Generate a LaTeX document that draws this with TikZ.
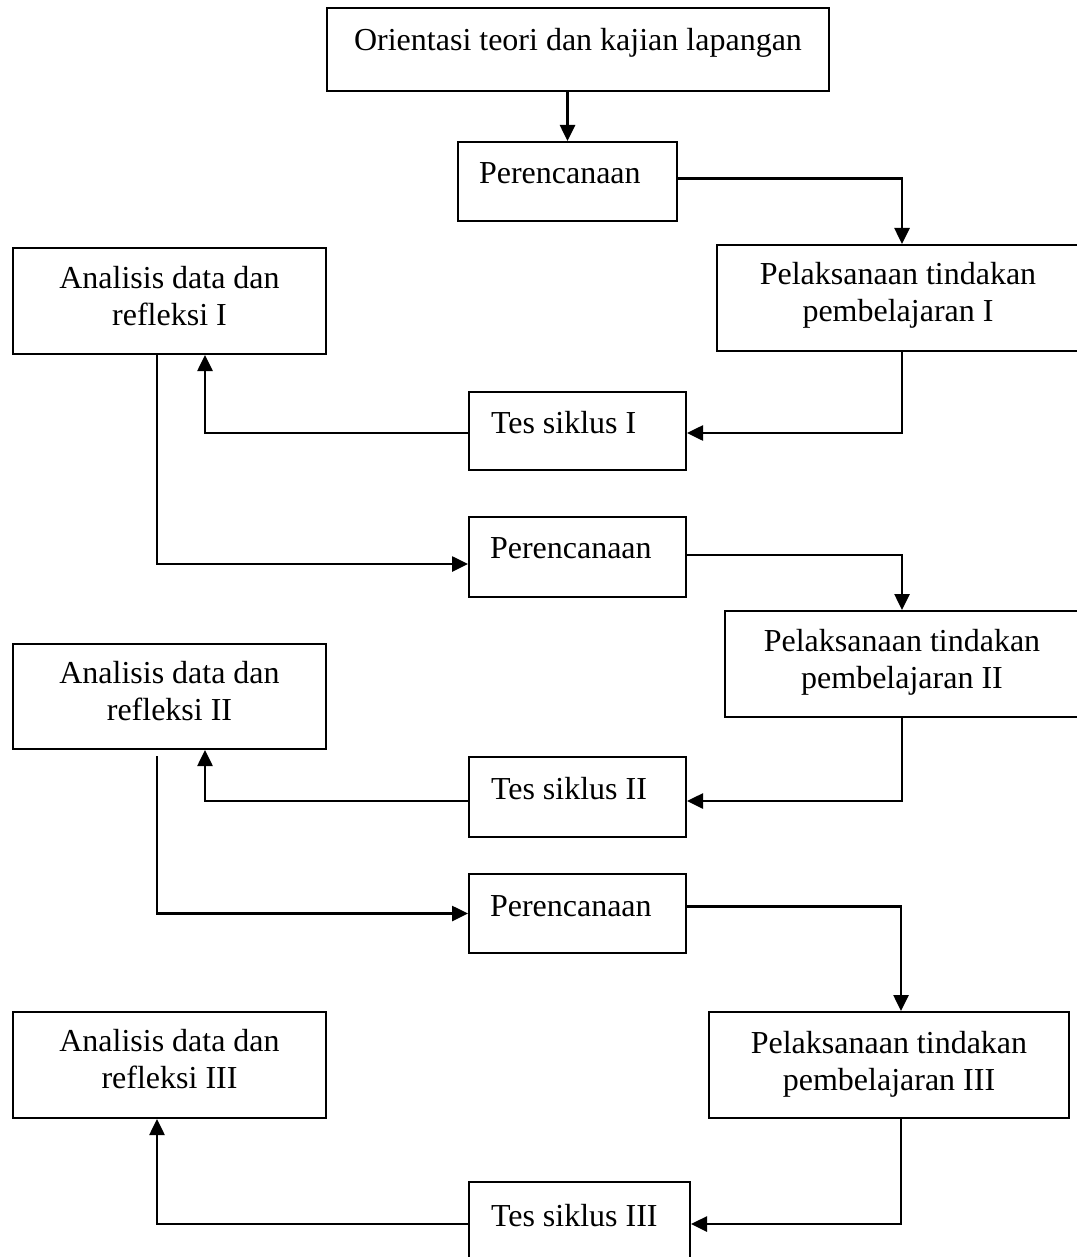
\documentclass[tikz,border=0pt]{standalone}
\usepackage{fontspec}
\setmainfont{Liberation Serif}
\usetikzlibrary{arrows.meta}
\begin{document}
\begin{tikzpicture}[x=1pt,y=-1pt,
  box/.style={draw, line width=2pt, inner ysep=0pt, anchor=north west,
    font=\fontsize{32}{37.5}\selectfont},
  lbox/.style={box, align=flush left, inner xsep=21pt},
  cbox/.style={box, align=flush center, inner xsep=0pt},
  conn/.style={line width=2.6pt, -{Triangle[length=16pt,width=15pt]}}]
\fill[white] (0,0) rectangle (1076,1257);
\useasboundingbox (0,0) rectangle (1076,1257);

\node[cbox, text width=502pt, text height=43pt, text depth=40pt] (orient) at (326,7) {Orientasi teori dan kajian lapangan};
\node[lbox, text width=177pt, text height=42pt, text depth=37pt] (per1) at (457,141) {Perencanaan};
\node[cbox, text width=362pt, text height=39pt, text depth=67pt] (pel1) at (716,244) {Pelaksanaan tindakan\\pembelajaran I};
\node[cbox, text width=313pt, text height=40pt, text depth=66pt] (ana1) at (12,247) {Analisis data dan\\refleksi I};
\node[lbox, text width=173pt, inner xsep=22pt, text height=41pt, text depth=37pt] (tes1) at (468,391) {Tes siklus I};
\node[lbox, text width=175pt, text height=41pt, text depth=39pt] (per2) at (468,516) {Perencanaan};
\node[cbox, text width=354pt, text height=40pt, text depth=66pt] (pel2) at (724,610) {Pelaksanaan tindakan\\pembelajaran II};
\node[cbox, text width=313pt, text height=39pt, text depth=66pt] (ana2) at (12,643) {Analisis data dan\\refleksi II};
\node[lbox, text width=173pt, inner xsep=22pt, text height=42pt, text depth=38pt] (tes2) at (468,756) {Tes siklus II};
\node[lbox, text width=175pt, text height=42pt, text depth=37pt] (per3) at (468,873) {Perencanaan};
\node[cbox, text width=360pt, text height=41pt, text depth=65pt] (pel3) at (708,1011) {Pelaksanaan tindakan\\pembelajaran III};
\node[cbox, text width=313pt, text height=39pt, text depth=67pt] (ana3) at (12,1011) {Analisis data dan\\refleksi III};
\node[lbox, text width=177pt, inner xsep=22pt, text height=44pt, text depth=36pt] (tes3) at (468,1181) {Tes siklus III};

\draw[conn] (per1.north |- orient.south) -- (per1.north);
\draw[conn] ([yshift=3pt]per1.east) -| ([xshift=4pt]pel1.north);
\draw[conn] ([xshift=4pt]pel1.south) |- ([yshift=-2pt]tes1.east);
\draw[conn] ([yshift=-2pt]tes1.west) -| ([xshift=35.5pt]ana1.south);
\draw[conn] ([xshift=-12.5pt]ana1.south) |- ([yshift=-7pt]per2.west);
\draw[conn] ([yshift=2pt]per2.east) -| (pel2.north);
\draw[conn] (pel2.south) |- ([yshift=-4pt]tes2.east);
\draw[conn] ([yshift=-4pt]tes2.west) -| ([xshift=35.5pt]ana2.south);
\draw[conn] ([xshift=-12.5pt,yshift=-6pt]ana2.south) |- (per3.west);
\draw[conn] ([yshift=7pt]per3.east) -| ([xshift=12pt]pel3.north);
\draw[conn] ([xshift=12pt]pel3.south) |- ([yshift=-2pt]tes3.east);
\draw[conn] ([yshift=-2pt]tes3.west) -| ([xshift=-12.5pt]ana3.south);
\end{tikzpicture}
\end{document}
